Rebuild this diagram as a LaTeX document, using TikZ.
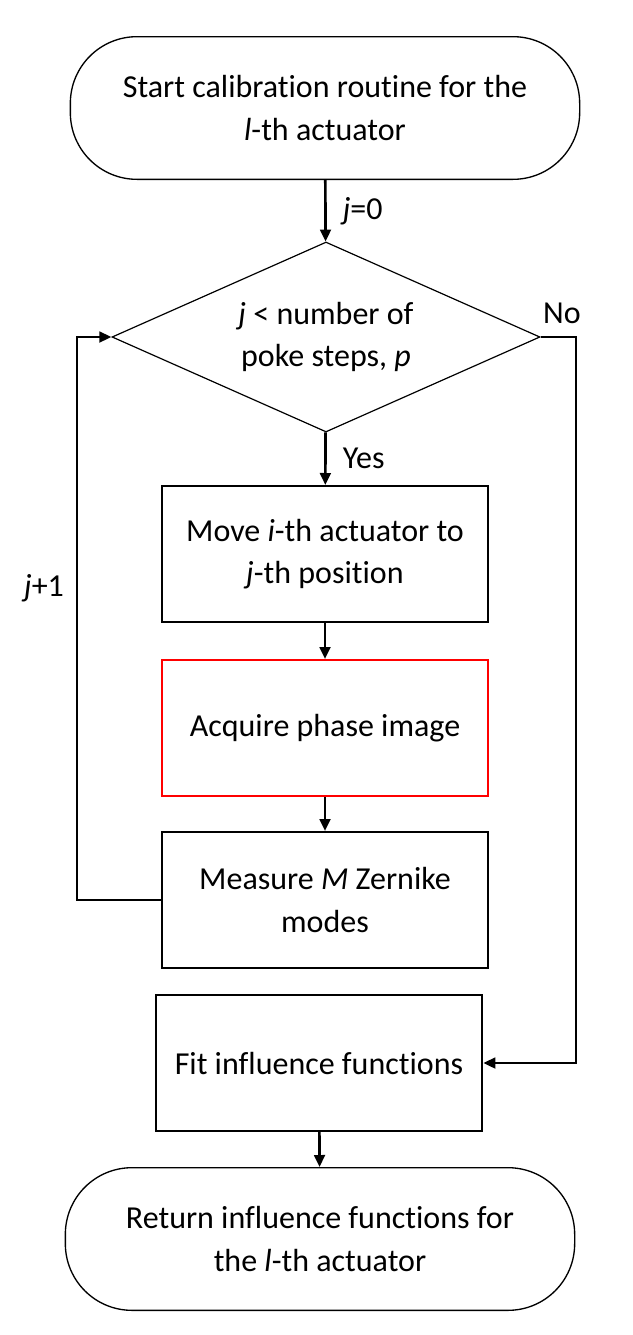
\documentclass[tikz,border=0pt]{standalone}
\usepackage{fontspec}
\setmainfont[RawFeature=-liga]{Carlito}
\usetikzlibrary{arrows.meta,shapes.geometric}

\begin{document}
\begin{tikzpicture}[
    x=0.75pt,y=-0.75pt,
    every node/.style={font=\fontsize{24}{32}\selectfont,align=center,inner sep=0pt},
    term/.style={draw,line width=1pt,rounded corners=50pt,minimum width=382pt,minimum height=107pt},
    test/.style={draw,line width=0.9pt,diamond,aspect=2.25,minimum width=321pt,minimum height=142.5pt},
    stepbox/.style={draw,line width=1.5pt,minimum width=245pt,minimum height=102pt},
    conn/.style={line width=2pt,-{Triangle[length=9pt,width=8pt]}},
    ]
  \useasboundingbox (0,0) rectangle (632,1335);
  \node[term] (start) at (325,108) {Start calibration routine for the\\\textit{l}-th actuator};
  \node[test] (test) at (326,337) {\textit{j} < number of\\poke steps, \textit{p}};
  \node[stepbox] (move) at (325,554) {Move \textit{i}-th actuator to\\\textit{j}-th position};
  \node[stepbox,draw=red] (acq) at (325,728) {Acquire phase image};
  \node[stepbox] (meas) at (325,900) {Measure \textit{M} Zernike\\modes};
  \node[stepbox] (fit) at (319,1063) {Fit influence functions};
  \node[term] (ret) at (320,1239) {Return influence functions for\\the \textit{l}-th actuator};

  \coordinate (nr) at (576,337);
  \coordinate (nl) at (77,900);
  \node (no) at (562,313) {No};
  \node (jp) at (44,588) {\textit{j}+1};

  \draw[conn] (start) -- (test) node[midway,right=12pt] {\textit{j}=0};
  \draw[conn] (test) -- (move) node[midway,right=12pt] {Yes};
  \draw[conn] (move) -- (acq);
  \draw[conn] (acq) -- (meas);
  \draw[conn] (fit) -- (ret);
  \draw[conn] (test.east) -- (nr) |- (fit.east);
  \draw[conn] (meas.west) -- (nl) |- (test.west);
\end{tikzpicture}
\end{document}
